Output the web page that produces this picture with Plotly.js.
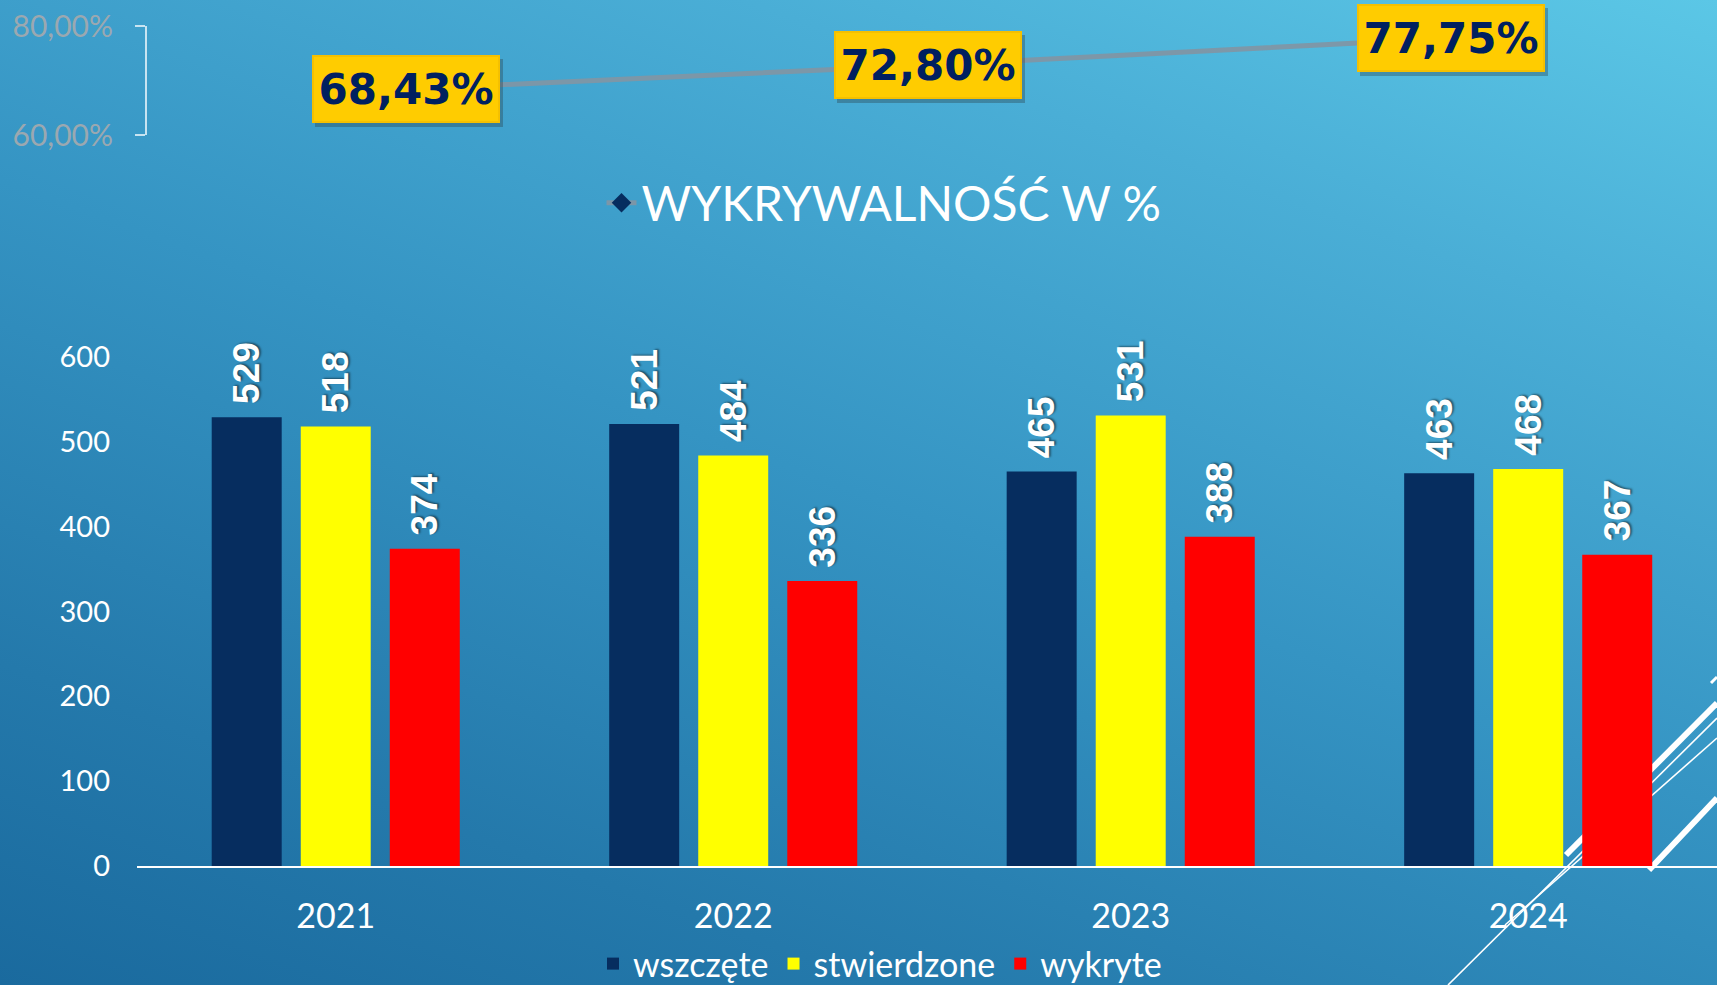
<!DOCTYPE html>
<html>
<head>
<meta charset="utf-8">
<script src="https://cdn.plot.ly/plotly-3.0.1.min.js"></script>
<style>
  html, body { margin:0; padding:0; width:1717px; height:985px; overflow:hidden; }
  body { background: linear-gradient(200deg, #5bc7e6 0%, #4aaed6 22%, #3594c3 50%, #2479ab 80%, #1a6a9e 100%); }
  #chart { width:1717px; height:985px; }
</style>
</head>
<body>
<div id="chart"></div>
<script>
// ---- data ----
const years = ['2021', '2022', '2023', '2024'];
const wszczete = [529, 521, 465, 463];
const stwierdzone = [518, 484, 531, 468];
const wykryte = [374, 336, 388, 367];

const rateCats = ['2021', '2022', '2023'];
const rateValues = [68.43, 72.80, 77.75];

const yTicks = [0, 100, 200, 300, 400, 500, 600];
const rateTicks = [60, 80];

// ---- layout helpers ----
const W = 1717, H = 985, mL = 137, mR = 0, mT = 26, mB = 119;
const plotW = W - mL - mR, plotH = H - mT - mB;
function px(x, y) { return { x: (x - mL) / plotW, y: (H - mB - y) / plotH }; }
function fmtPct(v) { return v.toFixed(2).replace('.', ',') + '%'; }

const labelFont = { family: 'Liberation Sans, Arial, sans-serif', size: 37, color: '#ffffff', weight: 700, shadow: '1px 2px 2px rgba(0,0,0,0.45)' };

function barTrace(name, vals, color) {
  return {
    type: 'bar', name: name, x: years, y: vals,
    marker: { color: color },
    texttemplate: '\u00a0%{y}', textposition: 'outside', textangle: -90,
    textfont: labelFont, cliponaxis: false, constraintext: 'none',
    hoverinfo: 'skip', legend: 'legend'
  };
}

const traces = [
  barTrace('wszczęte', wszczete, '#062d5f'),
  barTrace('stwierdzone', stwierdzone, '#ffff00'),
  barTrace('wykryte', wykryte, '#ff0000'),
  {
    type: 'scatter', mode: 'lines+markers', name: 'WYKRYWALNOŚĆ W %',
    x: rateCats, y: rateValues, xaxis: 'x2', yaxis: 'y2',
    line: { color: 'rgba(128,150,165,0.95)', width: 5 },
    marker: { symbol: 'diamond', size: 15, color: '#062d5f' },
    legend: 'legend2', cliponaxis: false, hoverinfo: 'skip'
  }
];

// value boxes on the rate line (category axis position = category index)
const boxW = 178, boxH = 58;
const annotations = [];
rateCats.forEach((c, i) => {
  annotations.push({
    x: i, y: rateValues[i], xref: 'x2', yref: 'y2', showarrow: false,
    text: '\u00a0', xshift: 3, yshift: -4, width: boxW, height: boxH,
    font: { family: 'DejaVu Sans', size: 40, color: 'rgba(0,0,0,0)' },
    bgcolor: 'rgba(40,60,70,0.35)', borderpad: 5, borderwidth: 0
  });
  annotations.push({
    x: i, y: rateValues[i], xref: 'x2', yref: 'y2', showarrow: false,
    text: fmtPct(rateValues[i]), width: boxW, height: boxH,
    font: { family: 'DejaVu Sans', size: 42, color: '#002060', weight: 700 },
    bgcolor: '#ffcc00', bordercolor: '#f5c000', borderwidth: 2, borderpad: 3
  });
});

// decorative slide lines (bottom right)
const deco = [
  [[1566, 855], [1717, 703], 6],
  [[1448, 985], [1717, 718], 1.6],
  [[1505, 925], [1717, 738], 1.6],
  [[1649, 870], [1717, 798], 6],
  [[1711, 683], [1717, 677], 3]
];
const shapes = deco.map(d => {
  const a = px(d[0][0], d[0][1]), b = px(d[1][0], d[1][1]);
  return { type: 'line', xref: 'paper', yref: 'paper', x0: a.x, y0: a.y, x1: b.x, y1: b.y,
           line: { color: '#ffffff', width: d[2] }, layer: 'below' };
});

const barDomTop = (H - mB - 357) / plotH;
const rateDomBot = (H - mB - 135) / plotH;

const baseFont = 'Lato, "Open Sans", sans-serif';

const layout = {
  width: W, height: H,
  margin: { l: mL, r: mR, t: mT, b: mB, pad: 0, autoexpand: false },
  paper_bgcolor: 'rgba(0,0,0,0)', plot_bgcolor: 'rgba(0,0,0,0)',
  font: { family: baseFont, color: '#ffffff' },
  separators: ', ',
  barmode: 'group', bargap: 0.328, bargroupgap: 0.214,
  xaxis: {
    type: 'category', range: [-0.5, 3.475], domain: [0, 1], anchor: 'y',
    showline: true, linecolor: '#ffffff', linewidth: 2, showgrid: false, zeroline: false,
    ticks: '', tickfont: { size: 34, color: '#ffffff', family: baseFont }, ticklabelstandoff: 19,
    automargin: false
  },
  yaxis: {
    domain: [0, barDomTop], range: [0, 600], tickmode: 'array', tickvals: yTicks,
    showgrid: false, zeroline: false, showline: false, ticks: '',
    tickfont: { size: 29, color: '#ffffff', family: baseFont }, ticklabelstandoff: 26,
    automargin: false
  },
  xaxis2: {
    type: 'category', range: [-0.515, 2.51], domain: [0, 1], anchor: 'y2',
    showticklabels: false, showline: false, showgrid: false, zeroline: false, ticks: '',
    automargin: false
  },
  yaxis2: {
    domain: [rateDomBot, 1], range: [60, 80], tickmode: 'array', tickvals: rateTicks,
    ticktext: rateTicks.map(fmtPct), anchor: 'free', position: (146 - mL) / plotW,
    showline: true, linecolor: 'rgba(225,240,248,0.85)', linewidth: 2,
    ticks: 'outside', ticklen: 10, tickwidth: 2, tickcolor: 'rgba(225,240,248,0.85)',
    showgrid: false, zeroline: false, automargin: false,
    tickfont: { size: 30, color: '#9ba8b0', family: baseFont }, ticklabelstandoff: 16
  },
  legend: {
    orientation: 'h', xref: 'container', yref: 'container',
    x: 880 / W, xanchor: 'center', y: 1 - 964 / H, yanchor: 'middle',
    font: { size: 34, color: '#ffffff', family: baseFont }, bgcolor: 'rgba(0,0,0,0)',
    traceorder: 'normal', itemwidth: 30
  },
  legend2: {
    orientation: 'h', xref: 'container', yref: 'container',
    x: 884 / W, xanchor: 'center', y: 1 - 203 / H, yanchor: 'middle',
    font: { size: 48, color: '#ffffff', family: baseFont }, bgcolor: 'rgba(0,0,0,0)'
  },
  annotations: annotations,
  shapes: shapes,
  showlegend: true
};

Plotly.newPlot('chart', traces, layout, { staticPlot: true, displayModeBar: false });
</script>
</body>
</html>
